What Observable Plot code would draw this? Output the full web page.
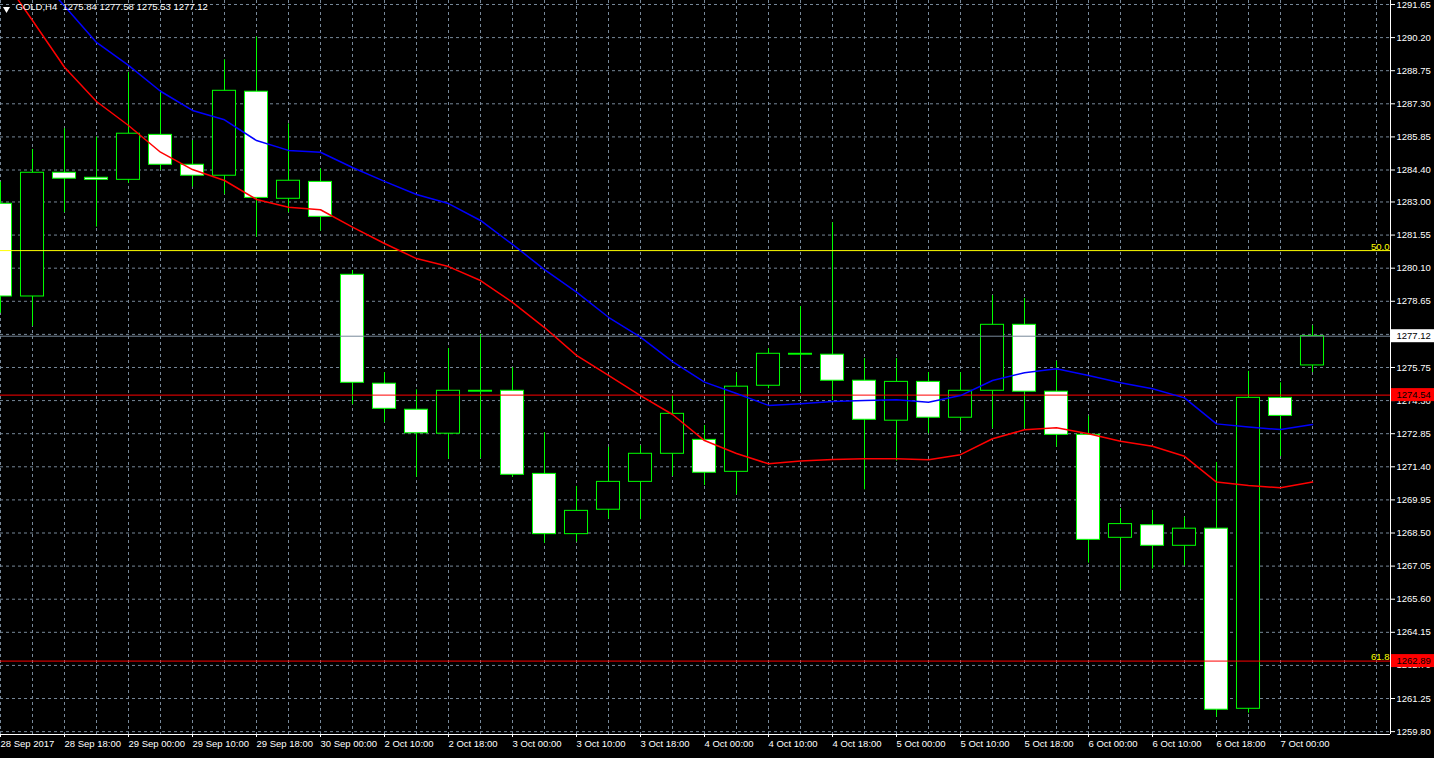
<!DOCTYPE html>
<html><head><meta charset="utf-8">
<script src="https://cdn.jsdelivr.net/npm/d3@7"></script>
<script src="https://cdn.jsdelivr.net/npm/@observablehq/plot@0.6"></script>
<style>html,body{margin:0;padding:0;background:#000;overflow:hidden}</style>
</head><body><div id="chart"></div>
<script>
// ---- data (GOLD, H4) ----
const opens  = [1282.92,1278.86,1284.28,1284.06,1283.97,1285.94,1284.63,1284.15,1287.83,1283.14,1283.88,1279.81,1275.04,1273.90,1272.85,1274.69,1274.73,1271.09,1268.45,1269.52,1270.74,1271.97,1272.58,1271.18,1274.95,1276.31,1276.31,1275.17,1273.42,1275.12,1273.55,1274.73,1277.62,1274.69,1272.80,1268.29,1268.84,1267.94,1268.69,1260.80,1274.42,1275.84];
const highs  = [1283.87,1285.30,1286.21,1285.84,1288.68,1287.85,1285.69,1289.23,1290.22,1286.42,1284.45,1280.00,1275.52,1274.77,1276.58,1277.20,1275.74,1272.89,1270.54,1272.26,1272.32,1274.52,1273.21,1275.52,1276.57,1278.42,1282.09,1276.14,1276.14,1275.53,1275.52,1278.90,1278.77,1276.03,1273.62,1269.57,1269.49,1269.19,1271.59,1275.58,1275.08,1277.58];
const lows   = [1278.13,1277.55,1282.53,1281.90,1283.82,1284.38,1283.65,1283.33,1281.46,1282.53,1281.72,1274.12,1273.33,1270.94,1271.73,1271.76,1270.94,1268.05,1268.10,1269.11,1269.08,1270.98,1270.58,1270.17,1274.82,1274.64,1274.30,1270.39,1271.65,1272.85,1272.95,1273.07,1273.07,1272.26,1267.18,1266.01,1266.92,1267.06,1260.43,1260.61,1271.85,1275.53];
const closes = [1278.86,1284.28,1284.02,1283.97,1285.99,1284.63,1284.15,1287.87,1283.18,1283.93,1282.35,1275.08,1273.94,1272.87,1274.73,1274.73,1271.05,1268.45,1269.47,1270.74,1271.97,1273.72,1271.14,1274.91,1276.35,1276.35,1275.17,1273.46,1275.12,1273.55,1274.73,1277.62,1274.69,1272.80,1268.20,1268.89,1267.94,1268.69,1260.76,1274.42,1273.63,1277.12];
// moving averages (red = fast, blue = slow)
const maRed  = [1292.96,1290.95,1288.90,1287.40,1286.35,1285.18,1284.42,1283.94,1283.11,1282.77,1282.66,1281.90,1281.18,1280.52,1280.17,1279.56,1278.60,1277.50,1276.28,1275.40,1274.52,1273.69,1272.55,1271.98,1271.53,1271.65,1271.72,1271.75,1271.75,1271.71,1271.93,1272.63,1273.02,1273.11,1272.85,1272.52,1272.30,1271.86,1270.73,1270.58,1270.48,1270.73];
const maBlue = [1294.80,1293.18,1291.58,1289.99,1288.98,1287.85,1287.01,1286.60,1285.69,1285.26,1285.18,1284.51,1283.90,1283.33,1282.93,1282.19,1281.14,1280.04,1279.05,1277.95,1277.08,1276.01,1275.11,1274.61,1274.09,1274.16,1274.26,1274.30,1274.34,1274.23,1274.52,1275.18,1275.52,1275.69,1275.40,1275.08,1274.82,1274.42,1273.28,1273.14,1273.03,1273.25];
// axis labels
const xLabels = ["28 Sep 2017","28 Sep 18:00","29 Sep 00:00","29 Sep 10:00","29 Sep 18:00","30 Sep 00:00","2 Oct 10:00","2 Oct 18:00","3 Oct 00:00","3 Oct 10:00","3 Oct 18:00","4 Oct 00:00","4 Oct 10:00","4 Oct 18:00","5 Oct 00:00","5 Oct 10:00","5 Oct 18:00","6 Oct 00:00","6 Oct 10:00","6 Oct 18:00","7 Oct 00:00"];
const yTicks = [1291.65,1290.20,1288.75,1287.30,1285.85,1284.40,1283.00,1281.55,1280.10,1278.65,1277.20,1275.75,1274.30,1272.85,1271.40,1269.95,1268.50,1267.05,1265.60,1264.15,1262.70,1261.25,1259.80];
// horizontal levels
const bidPrice = 1277.12;
const redLevel = 1274.54;
const fibValues = [1280.87, 1262.89];
const fibLabels = ["50.0", "61.8"];
const symbolName = "GOLD,H4";

// ---- scale settings ----
const X_MAX = 1390 / 32;
const Y_MIN = 1259.674, Y_MAX = 1291.825;
const BODY = 0.36;
const GRID = "#778899", LIME = "#00ff00";

const candles = opens.map((o, i) => ({i, o, h: highs[i], l: lows[i], c: closes[i]}));
const redPts = maRed.map((v, i) => ({i, v}));
const bluePts = maBlue.map((v, i) => ({i, v}));
const gridIdx = d3.range(0, Math.floor(X_MAX) + 1);
const labelIdx = xLabels.map((_, k) => 2 * k);
const fibs = fibValues.map((v, k) => ({v, label: fibLabels[k], color: k === 0 ? "#ffff00" : "#ff0000"}));
const boxes = [
  {v: bidPrice, bg: "#ffffff"},
  {v: redLevel, bg: "#ff0000"},
  {v: fibValues[1], bg: "#ff0000"}
];
const last = candles[candles.length - 1];
const header = `${symbolName}\u00a0 ${last.o.toFixed(2)} ${last.h.toFixed(2)} ${last.l.toFixed(2)} ${last.c.toFixed(2)}`;

const chart = Plot.plot({
  width: 1434, height: 758,
  marginTop: 0, marginRight: 44, marginBottom: 24, marginLeft: 0,
  style: {background: "#000", color: "#fff", fontFamily: "'Liberation Sans', Arial, sans-serif", fontSize: "9.5px"},
  x: {type: "linear", domain: [0, X_MAX], axis: null},
  y: {type: "linear", domain: [Y_MIN, Y_MAX], axis: null},
  marks: [
    Plot.ruleY(yTicks, {stroke: GRID, strokeDasharray: "3,3"}),
    Plot.ruleX(gridIdx, {stroke: GRID, strokeDasharray: "3,3"}),
    Plot.ruleX(candles, {x: "i", y1: "l", y2: "h", stroke: LIME}),
    Plot.rect(candles, {x1: d => d.i - BODY, x2: d => d.i + BODY, y1: "o", y2: "c",
      fill: d => d.c >= d.o ? "#000" : "#fff", stroke: LIME}),
    Plot.ruleY([bidPrice], {stroke: GRID}),
    Plot.ruleY(fibs, {y: "v", stroke: "color"}),
    Plot.ruleY([redLevel], {stroke: "#ff0000"}),
    Plot.line(bluePts, {x: "i", y: "v", stroke: "#0000ff", clip: true}),
    Plot.line(redPts, {x: "i", y: "v", stroke: "#ff0000", clip: true}),
    Plot.text(fibs, {x: X_MAX, y: "v", text: "label", textAnchor: "end", lineAnchor: "bottom", dx: -1, dy: -1, fill: "#ffff00"}),
    // axes
    Plot.ruleX([X_MAX], {stroke: "#fff"}),
    Plot.ruleY([Y_MIN], {stroke: "#fff"}),
    Plot.axisY({anchor: "right", ticks: yTicks, tickFormat: d => d.toFixed(2), tickSize: 4, tickPadding: 2, fill: "#fff", stroke: "#fff", label: null}),
    Plot.axisX({anchor: "bottom", ticks: labelIdx, tickFormat: d => xLabels[d / 2], tickSize: 3, tickPadding: 3, textAnchor: "start", fill: "#fff", stroke: "#fff", label: null}),
    // price boxes on the right axis
    Plot.rect(boxes, {x1: X_MAX, x2: X_MAX, y1: "v", y2: "v", insetLeft: 1, insetRight: -44, insetTop: -6.5, insetBottom: -6.5, fill: "bg"}),
    Plot.text(boxes, {x: X_MAX, y: "v", text: d => d.v.toFixed(2), dx: 6, textAnchor: "start", fill: "#000"}),
    // header
    Plot.dot([0], {frameAnchor: "top-left", dx: 6, dy: 8.5, symbol: "triangle", r: 2.6, rotate: 180, fill: "#fff", stroke: null}),
    Plot.text([header], {frameAnchor: "top-left", dx: 15, dy: 3, lineAnchor: "top", textAnchor: "start", fill: "#fff", text: d => d})
  ]
});
document.getElementById("chart").appendChild(chart);
</script>
</body></html>
